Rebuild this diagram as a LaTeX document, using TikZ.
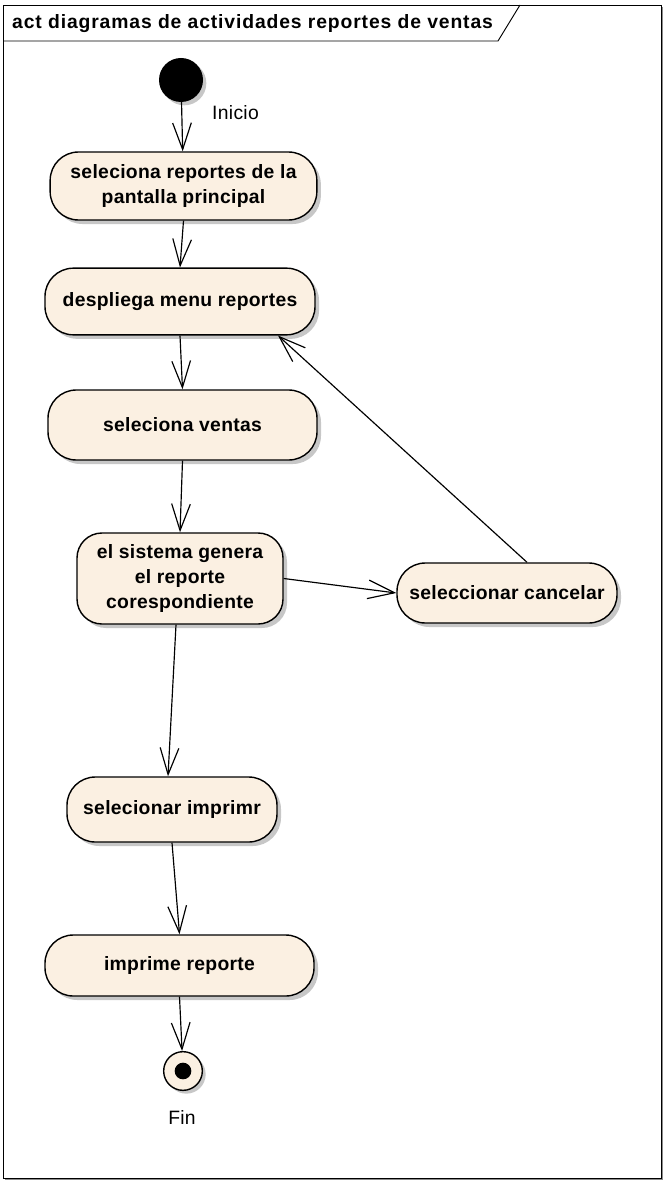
\documentclass[tikz,border=0pt]{standalone}
\usepackage{fontspec}
\setmainfont{Liberation Sans}
\usepackage{tikz}
\usetikzlibrary{arrows.meta, positioning, shadows}

\definecolor{actfill}{RGB}{251,240,226}

\begin{document}
\begin{tikzpicture}[
        x=0.03cm, y=-0.03cm,
        font=\fontsize{16.5}{21}\selectfont\addfontfeature{LetterSpace=1.5},
        action/.style={
            draw,
            line width=1.2pt,
            rounded corners=0.85cm,
            align=center,
            inner sep=2pt,
            fill=actfill,
            font=\fontsize{16.5}{21}\selectfont\bfseries\addfontfeature{LetterSpace=1.5},
            drop shadow={shadow xshift=0.12cm, shadow yshift=-0.12cm, fill=black!22, opacity=1}
        },
        initial/.style={
            circle,
            fill=black,
            minimum size=1.32cm,
            inner sep=0pt,
            drop shadow={shadow xshift=0.1cm, shadow yshift=-0.1cm, fill=black!22, opacity=1}
        },
        final/.style={
            circle,
            draw,
            line width=1.2pt,
            fill=actfill,
            minimum size=1.16cm,
            inner sep=0pt,
            path picture={\fill[black] (path picture bounding box.center) circle (0.25cm);},
            drop shadow={shadow xshift=0.1cm, shadow yshift=-0.1cm, fill=black!22, opacity=1}
        },
        arrow/.style={-{Straight Barb[length=0.8cm, width=0.56cm]}, line width=1pt}
    ]
        \useasboundingbox (0,0) rectangle (663,1180);

        % frame and title tab
        \draw[black!45, line width=1.5pt] (662.5,7) -- (662.5,1179.5) -- (5,1179.5);
        \draw[line width=0.8pt] (3,5) rectangle (661,1178);
        \draw[line width=0.8pt] (3,41) -- (498,41) -- (520,5);
        \node[anchor=base west, inner sep=0pt, font=\fontsize{16.5}{21}\selectfont\bfseries\addfontfeature{LetterSpace=4.5}] (title) at (12,28.5) {act diagramas de actividades reportes de ventas};

        % nodes
        \node[initial] (start) at (181,80) {};
        \node[anchor=west, inner sep=0pt] (inicio) at (212,113) {Inicio};
        \node[action, minimum width=8.0cm, minimum height=2.04cm] (sel) at (183.5,186) {seleciona reportes de la\\pantalla principal};
        \node[action, minimum width=8.1cm, minimum height=2.0cm] (menu) at (180,301.5) {despliega menu reportes};
        \node[action, minimum width=8.07cm, minimum height=2.1cm] (ventas) at (182.5,425) {seleciona ventas};
        \node[action, rounded corners=0.75cm, minimum width=6.18cm, minimum height=2.73cm] (genera) at (180,578.5) {el sistema genera\\el reporte\\corespondiente};
        \node[action, minimum width=6.6cm, minimum height=1.8cm] (cancelar) at (507,593) {seleccionar cancelar};
        \node[action, minimum width=6.3cm, minimum height=1.95cm] (imprimir) at (172,809.5) {selecionar imprimr};
        \node[action, minimum width=8.07cm, minimum height=1.83cm] (imprime) at (179.5,965.5) {imprime reporte};
        \node[final] (fin) at (183,1071) {};
        \node[inner sep=0pt] (finlabel) at (182,1117) {Fin};

        % connectors
        \draw[arrow] (start) -- (sel);
        \draw[arrow] (sel.south) -- (menu.north);
        \draw[arrow] (menu.south) -- (ventas.north);
        \draw[arrow] (ventas.south) -- (genera.north);
        \draw[arrow] (genera.east) -- (cancelar.west);
        \draw[arrow] ([xshift=0.6cm]cancelar.north) -- ([xshift=2.94cm]menu.south);
        \draw[arrow] ([xshift=-0.12cm]genera.south) -- ([xshift=-0.12cm]imprimir.north);
        \draw[arrow] (imprimir.south) -- (imprime.north);
        \draw[arrow] (imprime.south) -- (fin);
    \end{tikzpicture}
\end{document}
